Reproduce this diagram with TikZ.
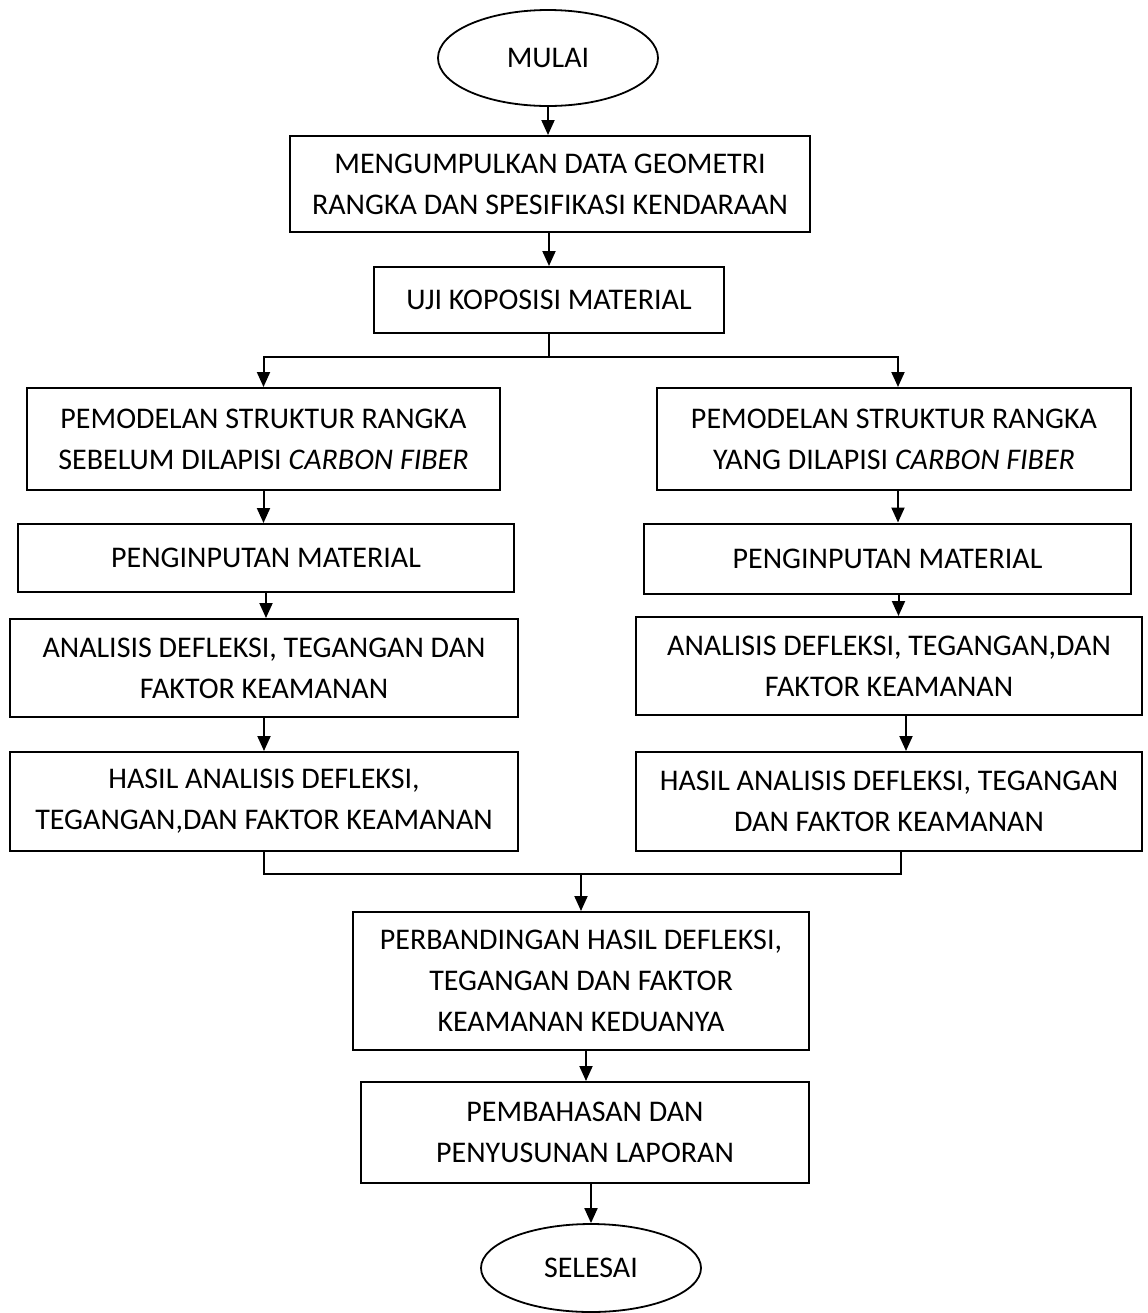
\documentclass[tikz,border=0pt]{standalone}
\usepackage{fontspec}
\setmainfont{Carlito}
\usetikzlibrary{shapes.geometric, arrows.meta}

\begin{document}
\begin{tikzpicture}[x=0.5pt, y=-0.5pt,
    box/.style={draw, line width=1pt, align=center, inner sep=0pt, font=\fontsize{15pt}{20.5pt}\selectfont},
    term/.style={draw, ellipse, line width=0.9pt, inner sep=0pt, minimum width=110pt, font=\fontsize{15pt}{20.5pt}\selectfont},
    arr/.style={line width=1pt, -{Triangle[length=7.5pt, width=6.5pt]}},
    link/.style={line width=1pt}]
    \useasboundingbox (0,0) rectangle (1147,1313);

    % Start, data and material test
    \node[term, minimum height=48pt] (mulai) at (548,58) {MULAI};
    \node[box, minimum width=260pt, minimum height=48pt] (data) at (550,184) {MENGUMPULKAN DATA GEOMETRI\\RANGKA DAN SPESIFIKASI KENDARAAN};
    \node[box, minimum width=175pt, minimum height=33pt] (uji) at (549,300) {UJI KOPOSISI MATERIAL};

    \draw[arr] (mulai.south) -- (mulai.south |- data.north);
    \draw[arr] (uji.north |- data.south) -- (uji.north);

    % Left branch: frame before carbon fiber
    \node[box, minimum width=236.5pt, minimum height=51pt] (modelA) at (263.5,439) {PEMODELAN STRUKTUR RANGKA\\SEBELUM DILAPISI \textit{CARBON FIBER}};
    \node[box, minimum width=248pt, minimum height=34pt] (inputA) at (266,558) {PENGINPUTAN MATERIAL};
    \node[box, minimum width=254pt, minimum height=49pt] (anaA) at (264,668) {ANALISIS DEFLEKSI, TEGANGAN DAN\\FAKTOR KEAMANAN};
    \node[box, minimum width=254pt, minimum height=49.5pt] (hasilA) at (264,801.5) {HASIL ANALISIS DEFLEKSI,\\TEGANGAN,DAN FAKTOR KEAMANAN};

    % Right branch: frame with carbon fiber
    \node[box, minimum width=237pt, minimum height=51pt] (modelB) at (894,439) {PEMODELAN STRUKTUR RANGKA\\YANG DILAPISI \textit{CARBON FIBER}};
    \node[box, minimum width=243.5pt, minimum height=35pt] (inputB) at (887.5,558.5) {PENGINPUTAN MATERIAL};
    \node[box, minimum width=253pt, minimum height=49pt] (anaB) at (889,666) {ANALISIS DEFLEKSI, TEGANGAN,DAN\\FAKTOR KEAMANAN};
    \node[box, minimum width=253pt, minimum height=49.5pt] (hasilB) at (889,801.5) {HASIL ANALISIS DEFLEKSI, TEGANGAN\\DAN FAKTOR KEAMANAN};

    % Split after material test
    \coordinate (split) at (551,357);
    \draw[link] (uji.south) -- (uji.south |- split);
    \draw[arr] (uji.south |- split) -| (modelA.north);
    \draw[arr] (uji.south |- split) -| ([xshift=2pt]modelB.north);

    \draw[arr] (modelA.south) -- (modelA.south |- inputA.north);
    \draw[arr] (inputA.south) -- (inputA.south |- anaA.north);
    \draw[arr] (anaA.south) -- (anaA.south |- hasilA.north);

    \draw[arr] ([xshift=2pt]modelB.south) -- ([xshift=2pt]modelB.south |- inputB.north);
    \draw[arr] ([xshift=5.5pt]inputB.south) -- ([xshift=5.5pt]inputB.south |- anaB.north);
    \draw[arr] ([xshift=8.5pt]anaB.south) -- ([xshift=8.5pt]anaB.south |- hasilB.north);

    % Comparison and report
    \node[box, minimum width=228pt, minimum height=69pt] (banding) at (581,981) {PERBANDINGAN HASIL DEFLEKSI,\\TEGANGAN DAN FAKTOR\\KEAMANAN KEDUANYA};
    \node[box, minimum width=224pt, minimum height=50.5pt] (bahas) at (585,1132.5) {PEMBAHASAN DAN\\PENYUSUNAN LAPORAN};
    \node[term, minimum height=44pt] (selesai) at (591,1268) {SELESAI};

    \coordinate (join) at (581,874);
    \draw[link] (hasilA.south) |- (join);
    \draw[link] ([xshift=6pt]hasilB.south) |- (join);
    \draw[arr] (join) -- (banding.north);
    \draw[arr] ([xshift=2.5pt]banding.south) -- ([xshift=2.5pt]banding.south |- bahas.north);
    \draw[arr] ([xshift=3pt]bahas.south) -- ([xshift=3pt]bahas.south |- selesai.north);
\end{tikzpicture}
\end{document}
